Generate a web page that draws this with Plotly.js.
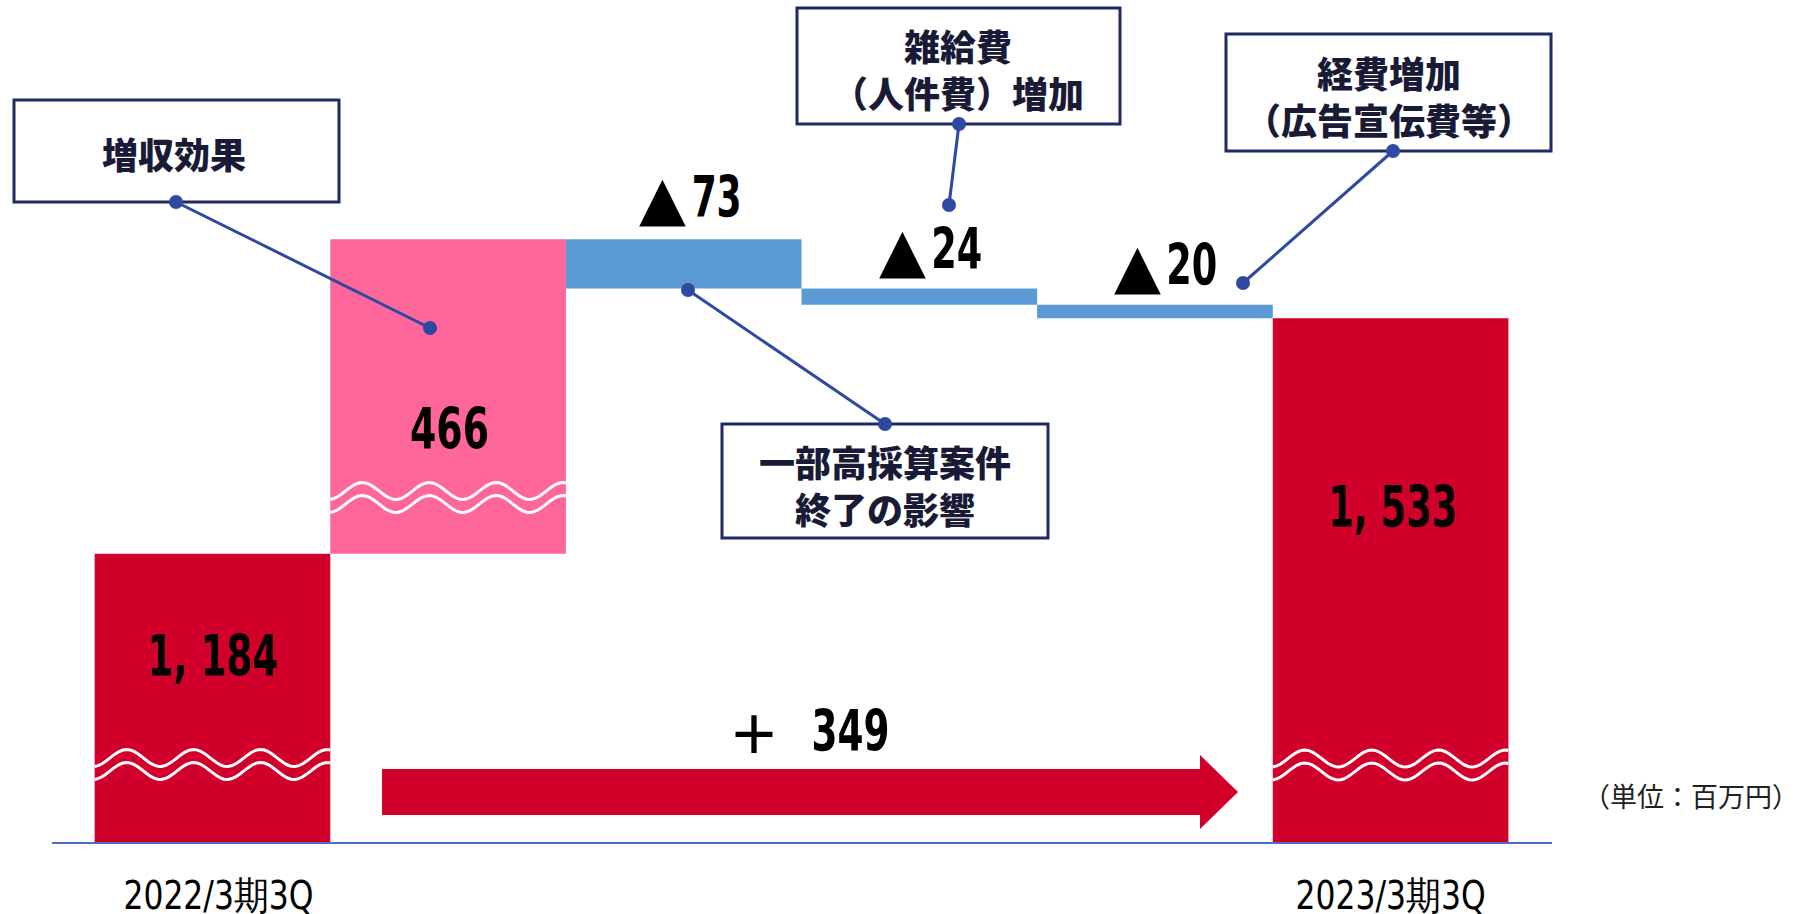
<!DOCTYPE html>
<html>
<head>
<meta charset="utf-8">
<script src="https://cdn.plot.ly/plotly-3.0.1.min.js"></script>
<style>html,body{margin:0;padding:0;background:#fff;}#chart{width:1800px;height:914px;}</style>
</head>
<body>
<div id="chart"></div>
<script>
// ---------------- data ----------------
const categories = ['2022/3期3Q', '増収効果', '一部高採算案件終了の影響', '雑給費（人件費）増加', '経費増加（広告宣伝費等）', '2023/3期3Q'];
const measures   = ['absolute', 'relative', 'relative', 'relative', 'relative', 'total'];
const values     = [1184, 466, -73, -24, -20, 1533];
const valueLabels = ['1, 184', '466', '▲73', '▲24', '▲20', '1, 533'];
const tickLabels = ['2022/3期3Q', '', '', '', '', '2023/3期3Q'];
const changeLabel = '＋ 349';
const unitLabel = '（単位：百万円）';
const calloutTexts = ['増収効果', '一部高採算案件<br>終了の影響', '雑給費<br>（人件費）増加', '経費増加<br>（広告宣伝費等）'];

// ---------------- layout geometry ----------------
const FIG_W = 1800, FIG_H = 914;
const M = {l: 52, r: 248, t: 0, b: 72};
const PW = FIG_W - M.l - M.r, PH = FIG_H - M.t - M.b;
const XR = [-0.681, 5.685];
const YR = [757, 2004.4];           // broken axis (wavy marks show the break)
const px = p => (p - M.l) / PW;      // pixel -> paper x
const py = p => (M.t + PH - p) / PH; // pixel -> paper y
const dx = p => XR[0] + (p - M.l) / PW * (XR[1] - XR[0]);
const dy = p => YR[0] + (M.t + PH - p) / PH * (YR[1] - YR[0]);

const RED = '#d0002a', PINK = '#ff6699', BLUE = '#5b9bd5';
const NAVY = '#1f2b62', LINK = '#2e4aa0', TXT = '#191b36';
const NUM_FONT = 'DejaVu Sans Condensed, DejaVu Sans, sans-serif';
const SYM_FONT = 'DejaVu Sans, sans-serif';
const CJK_FONT = 'Noto Sans CJK JP, Noto Sans, sans-serif';

const xIdx = categories.map((_, i) => i);

const trace = {
  type: 'waterfall',
  x: xIdx,
  y: values,
  measure: measures,
  hovertext: categories,
  textinfo: 'none',
  connector: {visible: false},
  increasing: {marker: {color: PINK, line: {width: 0}}},
  decreasing: {marker: {color: BLUE, line: {width: 0}}},
  totals: {marker: {color: RED, line: {width: 0}}},
  showlegend: false
};

const annotations = [];
const condenseTo = {};   // annotation index -> target text width (px), condensed lettering

function addNumber(text, cx, cy, width, symFont, symSize, gap, symWeight) {
  let sym = '', num = text;
  if (/^[▲＋]/.test(text)) { sym = text[0]; num = text.slice(1).trim(); }
  condenseTo[annotations.length] = width;
  annotations.push({
    x: px(cx), xref: 'paper', y: py(cy), yref: 'paper', text: num,
    showarrow: false, xanchor: 'center', yanchor: 'middle',
    font: {family: NUM_FONT, size: 57, color: '#000', weight: 'bold'}
  });
  if (sym) {
    annotations.push({
      x: px(cx - width / 2 - gap), xref: 'paper', y: py(cy), yref: 'paper', text: sym,
      showarrow: false, xanchor: 'right', yanchor: 'middle',
      font: {family: symFont, size: symSize, color: '#000', weight: symWeight}
    });
  }
}

// value labels: centre of the number part (pixels) and its width
const labelPos = [[213, 655.5], [449.5, 429], [716, 197], [956.5, 249], [1191.5, 265], [1392.5, 507.5]];
const labelW = [131, 79, 50, 51, 51, 129];
valueLabels.forEach((t, i) => addNumber(t, labelPos[i][0], labelPos[i][1], labelW[i], SYM_FONT, 61, 3, 'normal'));
addNumber(changeLabel, 851, 731, 78, CJK_FONT, 52, 30, 'bold');

annotations.push({
  x: px(1691), xref: 'paper', y: py(795), yref: 'paper', text: unitLabel,
  showarrow: false, xanchor: 'center', yanchor: 'middle',
  font: {family: CJK_FONT, size: 27, color: '#222'}
});

// callouts: box, text center, connector from/to (pixels)
const callouts = [
  {box: [14, 100, 339, 202], t: [174, 153], from: [176, 202], to: [430, 328]},
  {box: [722, 424, 1048, 538], t: [885, 484], from: [885, 424], to: [688, 290]},
  {box: [797, 8, 1120, 124], t: [958, 68], from: [959, 124], to: [949, 205]},
  {box: [1226, 34, 1551, 151], t: [1389, 95], from: [1393, 151], to: [1243, 283]}
];

const shapes = [];
callouts.forEach((c, i) => {
  shapes.push({type: 'rect', xref: 'paper', yref: 'paper',
    x0: px(c.box[0]), x1: px(c.box[2]), y0: py(c.box[3]), y1: py(c.box[1]),
    line: {color: NAVY, width: 3}, fillcolor: '#fff', layer: 'above'});
  shapes.push({type: 'line', xref: 'paper', yref: 'paper',
    x0: px(c.from[0]), y0: py(c.from[1]), x1: px(c.to[0]), y1: py(c.to[1]),
    line: {color: LINK, width: 3}, layer: 'above'});
  [c.from, c.to].forEach(p => {
    shapes.push({type: 'circle', xref: 'paper', yref: 'paper',
      x0: px(p[0] - 7), x1: px(p[0] + 7), y0: py(p[1] + 7), y1: py(p[1] - 7),
      fillcolor: LINK, line: {width: 0}, layer: 'above'});
  });
  annotations.push({
    x: px(c.t[0]), xref: 'paper', y: py(c.t[1]), yref: 'paper',
    text: calloutTexts[i], showarrow: false, xanchor: 'center', yanchor: 'middle',
    font: {family: CJK_FONT, size: 36, color: TXT, weight: 900}
  });
});

// axis-break waves (white double wavy lines) on the broken bars
const waveBars = [{i: 0, mids: [758, 771]}, {i: 1, mids: [491, 504]}, {i: 5, mids: [758.5, 771.5]}];
const WAVE_AMP = 8.5, WAVE_PERIOD = 0.284, WAVE_PEAK = 0.136;
waveBars.forEach(w => {
  w.mids.forEach(m => {
    let d = '';
    for (let k = 0; k <= 60; k++) {
      const f = k / 60;
      const xv = xIdx[w.i] - 0.5 + f;
      const ypx = m - WAVE_AMP * Math.cos(2 * Math.PI * (f - WAVE_PEAK) / WAVE_PERIOD);
      d += (k === 0 ? 'M' : 'L') + xv.toFixed(4) + ',' + dy(ypx).toFixed(3);
    }
    shapes.push({type: 'path', xref: 'x', yref: 'y', path: d,
      line: {color: '#fff', width: 3}, layer: 'above'});
  });
});

// change arrow (+349)
const AR = {x0: 382, xh: 1200, xt: 1238, s0: 769, s1: 815, h0: 755, h1: 829, ym: 792};
shapes.push({type: 'path', xref: 'x', yref: 'y', fillcolor: RED, line: {width: 0}, layer: 'below',
  path: `M${dx(AR.x0)},${dy(AR.s0)} L${dx(AR.xh)},${dy(AR.s0)} L${dx(AR.xh)},${dy(AR.h0)} L${dx(AR.xt)},${dy(AR.ym)} L${dx(AR.xh)},${dy(AR.h1)} L${dx(AR.xh)},${dy(AR.s1)} L${dx(AR.x0)},${dy(AR.s1)} Z`});

const TICK_W = 190;
const TICK_SHIFT = [6, 0, 0, 0, 0, 0];
const layout = {
  width: FIG_W, height: FIG_H,
  margin: M,
  paper_bgcolor: '#fff', plot_bgcolor: '#fff',
  waterfallgap: 0,
  showlegend: false,
  xaxis: {
    type: 'linear', range: XR, fixedrange: true,
    tickvals: xIdx, ticktext: tickLabels,
    ticks: '', showgrid: false, zeroline: false,
    showline: true, linecolor: '#4f6bc8', linewidth: 2,
    tickfont: {family: NUM_FONT, size: 39, color: '#000'},
    ticklabelstandoff: 18, automargin: false
  },
  yaxis: {
    range: YR, fixedrange: true, showgrid: false, zeroline: false,
    showline: false, showticklabels: false, ticks: ''
  },
  shapes: shapes,
  annotations: annotations
};

function condense(g, target, shift) {
  const t = g.querySelector('text');
  if (!t || !t.textContent.trim()) return;
  const w = t.getBBox().width;
  if (!w) return;
  g.style.transformBox = 'fill-box';
  g.style.transformOrigin = 'center';
  g.style.transform = (shift ? 'translateX(' + shift + 'px) ' : '') + 'scaleX(' + (target / w).toFixed(4) + ')';
}

Plotly.newPlot('chart', [trace], layout, {displayModeBar: false, staticPlot: true}).then(gd => {
  gd.querySelectorAll('g.annotation').forEach(g => {
    const idx = +g.getAttribute('data-index');
    if (condenseTo[idx]) condense(g, condenseTo[idx], 0);
  });
  gd.querySelectorAll('g.xtick').forEach((g, i) => condense(g, TICK_W, TICK_SHIFT[i] || 0));
});
</script>
</body>
</html>
